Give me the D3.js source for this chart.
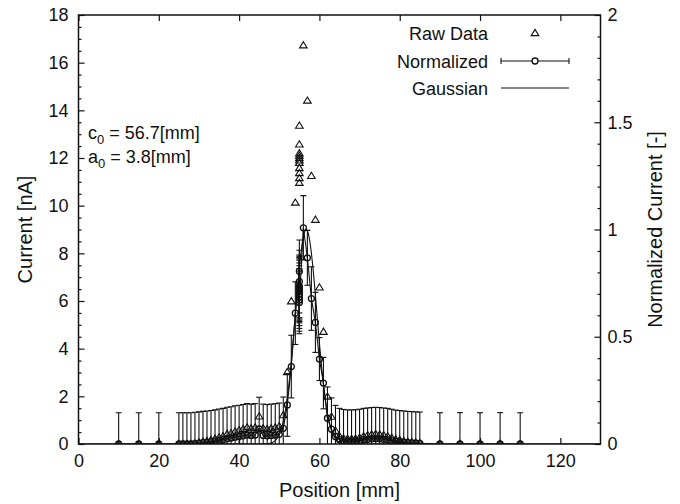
<!DOCTYPE html>
<html><head><meta charset="utf-8">
<script src="https://cdn.jsdelivr.net/npm/d3@7"></script>
<style>
body{margin:0;background:#fff;}
svg{display:block;}
text{font-family:"Liberation Sans",Arial,Helvetica,sans-serif;fill:#111;}
</style>
</head><body>
<svg id="c" width="680" height="504"></svg>
<script>
// ---- data ----
const positions = [10,15,20,
  25,26,27,28,29,30,31,32,33,34,35,36,37,38,39,40,41,42,43,44,45,46,47,48,49,50,51,52,53,54,
  55,55,55,55,55,55,55,55,55,55,55,
  56,57,58,59,60,61,62,63,64,65,66,67,68,69,70,71,72,73,74,75,76,77,78,79,80,81,82,83,84,85,
  90,95,100,105,110];
const rawCurrent = [0,0,0,
  0,0,0,0,0.03,0.07,0.1,0.13,0.17,0.22,0.28,0.33,0.42,0.46,0.53,0.58,0.63,0.7,0.66,0.7,1.16,0.66,0.63,0.66,0.7,0.75,1.21,3.02,5.99,10.13,
  13.36,12.57,12.2,12.1,12.0,11.9,11.8,11.58,11.37,11.16,10.96,
  16.73,14.41,11.25,9.41,6.57,4.71,1.99,1.15,0.56,0.33,0.25,0.22,0.22,0.23,0.27,0.33,0.37,0.4,0.42,0.4,0.37,0.33,0.27,0.2,0.17,0.13,0.1,0.08,0.07,0.05,
  0,0,0,0,0];
const normalized = [0,0,0,
  0,0,0,0,0.002,0.004,0.006,0.008,0.01,0.013,0.017,0.02,0.025,0.028,0.032,0.035,0.038,0.042,0.04,0.042,0.07,0.04,0.038,0.04,0.042,0.045,0.073,0.182,0.361,0.61,
  0.805,0.757,0.735,0.729,0.723,0.717,0.711,0.698,0.685,0.672,0.66,
  1.008,0.868,0.678,0.567,0.396,0.284,0.12,0.069,0.034,0.02,0.015,0.013,0.013,0.014,0.016,0.02,0.022,0.024,0.025,0.024,0.022,0.02,0.016,0.012,0.01,0.008,0.006,0.005,0.004,0.003,
  0,0,0,0,0];
const normError = [0.146,0.146,0.146,
  0.146,0.146,0.146,0.146,0.146,0.146,0.146,0.146,0.146,0.146,0.146,0.146,0.146,0.146,0.146,0.146,0.146,0.146,0.146,0.146,0.148,0.146,0.146,0.146,0.146,0.146,0.146,0.146,0.146,0.146,
  0.146,0.146,0.146,0.146,0.146,0.146,0.146,0.146,0.146,0.146,0.146,
  0.15,0.128,0.148,0.14,0.1,0.12,0.146,0.146,0.146,0.146,0.146,0.146,0.146,0.146,0.146,0.146,0.146,0.146,0.146,0.146,0.146,0.146,0.146,0.146,0.146,0.146,0.146,0.146,0.146,0.146,
  0.146,0.146,0.146,0.146,0.146];
// Gaussian fit parameters shown on the chart
const gaussC0 = 56.7, gaussA0 = 3.8, gaussAmp = 1.0;
const xTicks = [0,20,40,60,80,100,120];
const yTicks = [0,2,4,6,8,10,12,14,16,18];
const y2Ticks = [0,0.5,1,1.5,2];
const legendLabels = ["Raw Data","Normalized","Gaussian"];

// ---- layout ----
const svg = d3.select("#c");
const L = 78.5, R = 600.5, T = 15, B = 444;
const x = d3.scaleLinear().domain([0,130]).range([L,R]);
const y = d3.scaleLinear().domain([0,18]).range([B,T]);
const y2 = d3.scaleLinear().domain([0,2]).range([B,T]);
const ink = "#111";
const fs = 18;

svg.append("defs").append("clipPath").attr("id","plotclip")
  .append("rect").attr("x",L).attr("y",T).attr("width",R-L).attr("height",B-T);

// axes
function styleAxis(g){ g.select(".domain").remove(); g.selectAll("line").attr("stroke",ink).attr("stroke-width",1.2); g.selectAll("text").attr("font-size",fs).attr("fill",ink).style("font-family",'"Liberation Sans",Arial,sans-serif'); }
svg.append("g").attr("transform",`translate(0,${B})`)
  .call(d3.axisBottom(x).tickValues(xTicks).tickSizeInner(-6).tickSizeOuter(0).tickPadding(10).tickFormat(d3.format("d")))
  .call(styleAxis);
svg.append("g").attr("transform",`translate(0,${T})`)
  .call(d3.axisTop(x).tickValues(xTicks).tickSizeInner(-6).tickSizeOuter(0).tickFormat(""))
  .call(styleAxis);
svg.append("g").attr("transform",`translate(${L},0)`)
  .call(d3.axisLeft(y).tickValues(yTicks).tickSizeInner(-6).tickSizeOuter(0).tickPadding(10).tickFormat(d3.format("d")))
  .call(styleAxis);
svg.append("g").attr("transform",`translate(${L},0)`)
  .call(d3.axisLeft(y).tickValues(d3.range(0,18.01,0.5).filter(v=>v%2!==0)).tickSizeInner(-3).tickSizeOuter(0).tickFormat(""))
  .call(styleAxis);
svg.append("g").attr("transform",`translate(${R},0)`)
  .call(d3.axisRight(y2).tickValues(y2Ticks).tickSizeInner(-6).tickSizeOuter(0).tickPadding(7).tickFormat(d=>String(d)))
  .call(styleAxis);
svg.append("g").attr("transform",`translate(${R},0)`)
  .call(d3.axisRight(y2).tickValues(d3.range(0,2.001,0.1).filter(v=>Math.abs(v*2-Math.round(v*2))>1e-6)).tickSizeInner(-3).tickSizeOuter(0).tickFormat(""))
  .call(styleAxis);

// data layer
const plot = svg.append("g").attr("clip-path","url(#plotclip)");
const pts = positions.map((p,i)=>({p, raw:rawCurrent[i], n:normalized[i], e:normError[i]}));

// raw data triangles
const tri = "M0,-3.6L3.8,2.6L-3.8,2.6Z";
plot.selectAll("path.raw").data(pts).join("path").attr("class","raw")
  .attr("d",tri).attr("transform",d=>`translate(${x(d.p)},${y(d.raw)})`)
  .attr("fill","none").attr("stroke",ink).attr("stroke-width",1.1);

// error bars
const eb = plot.append("g").attr("stroke",ink).attr("stroke-width",1.1);
pts.forEach(d=>{
  const xx = x(d.p);
  eb.append("line").attr("x1",xx).attr("x2",xx).attr("y1",y2(d.n-d.e)).attr("y2",y2(d.n+d.e));
  eb.append("line").attr("x1",xx-3).attr("x2",xx+3).attr("y1",y2(d.n+d.e)).attr("y2",y2(d.n+d.e));
  eb.append("line").attr("x1",xx-3).attr("x2",xx+3).attr("y1",y2(d.n-d.e)).attr("y2",y2(d.n-d.e));
});
// connecting line
plot.append("path").datum(pts)
  .attr("d",d3.line().x(d=>x(d.p)).y(d=>y2(d.n)))
  .attr("fill","none").attr("stroke",ink).attr("stroke-width",1.1);
// circles
plot.selectAll("circle.n").data(pts).join("circle").attr("class","n")
  .attr("cx",d=>x(d.p)).attr("cy",d=>y2(d.n)).attr("r",3)
  .attr("fill","none").attr("stroke",ink).attr("stroke-width",1.3);

// gaussian curve
const gx = d3.range(0,130.01,0.2);
plot.append("path").datum(gx)
  .attr("d",d3.line().x(v=>x(v)).y(v=>y2(gaussAmp*Math.exp(-Math.pow((v-gaussC0)/gaussA0,2)))))
  .attr("fill","none").attr("stroke",ink).attr("stroke-width",1.1);

// frame
svg.append("rect").attr("x",L).attr("y",T).attr("width",R-L).attr("height",B-T)
  .attr("fill","none").attr("stroke",ink).attr("stroke-width",1.5);

// axis titles
svg.append("text").attr("x",(L+R)/2).attr("y",497).attr("text-anchor","middle").attr("font-size",20).text("Position [mm]");
svg.append("text").attr("transform",`translate(32,${(T+B)/2}) rotate(-90)`).attr("text-anchor","middle").attr("font-size",20).text("Current [nA]");
svg.append("text").attr("transform",`translate(662,${(T+B)/2}) rotate(-90)`).attr("text-anchor","middle").attr("font-size",20).text("Normalized Current [-]");

// legend
const lg = svg.append("g");
const lx = 488, sx1 = 501, sx2 = 569, sxm = 535;
const ly = [33,61,88];
legendLabels.forEach((t,i)=>{
  lg.append("text").attr("x",lx).attr("y",ly[i]+6.5).attr("text-anchor","end").attr("font-size",fs).text(t);
});
lg.append("path").attr("d",tri).attr("transform",`translate(${sxm},${ly[0]})`).attr("fill","none").attr("stroke",ink).attr("stroke-width",1.1);
lg.append("line").attr("x1",sx1).attr("x2",sx2).attr("y1",ly[1]).attr("y2",ly[1]).attr("stroke",ink).attr("stroke-width",1.1);
lg.append("line").attr("x1",sx1).attr("x2",sx1).attr("y1",ly[1]-3).attr("y2",ly[1]+3).attr("stroke",ink).attr("stroke-width",1.1);
lg.append("line").attr("x1",sx2).attr("x2",sx2).attr("y1",ly[1]-3).attr("y2",ly[1]+3).attr("stroke",ink).attr("stroke-width",1.1);
lg.append("circle").attr("cx",sxm).attr("cy",ly[1]).attr("r",3).attr("fill","#fff").attr("stroke",ink).attr("stroke-width",1.3);
lg.append("line").attr("x1",sx1).attr("x2",sx2).attr("y1",ly[2]).attr("y2",ly[2]).attr("stroke",ink).attr("stroke-width",1.1);

// fit annotation
function anno(yb, base, val){
  const t = svg.append("text").attr("x",88).attr("y",yb).attr("font-size",fs);
  t.append("tspan").text(base);
  t.append("tspan").attr("font-size",13).attr("dy",5).text("0");
  t.append("tspan").attr("dy",-5).text(" = " + val + "[mm]");
}
anno(138.5,"c",gaussC0);
anno(163,"a",gaussA0);
</script>
</body></html>
